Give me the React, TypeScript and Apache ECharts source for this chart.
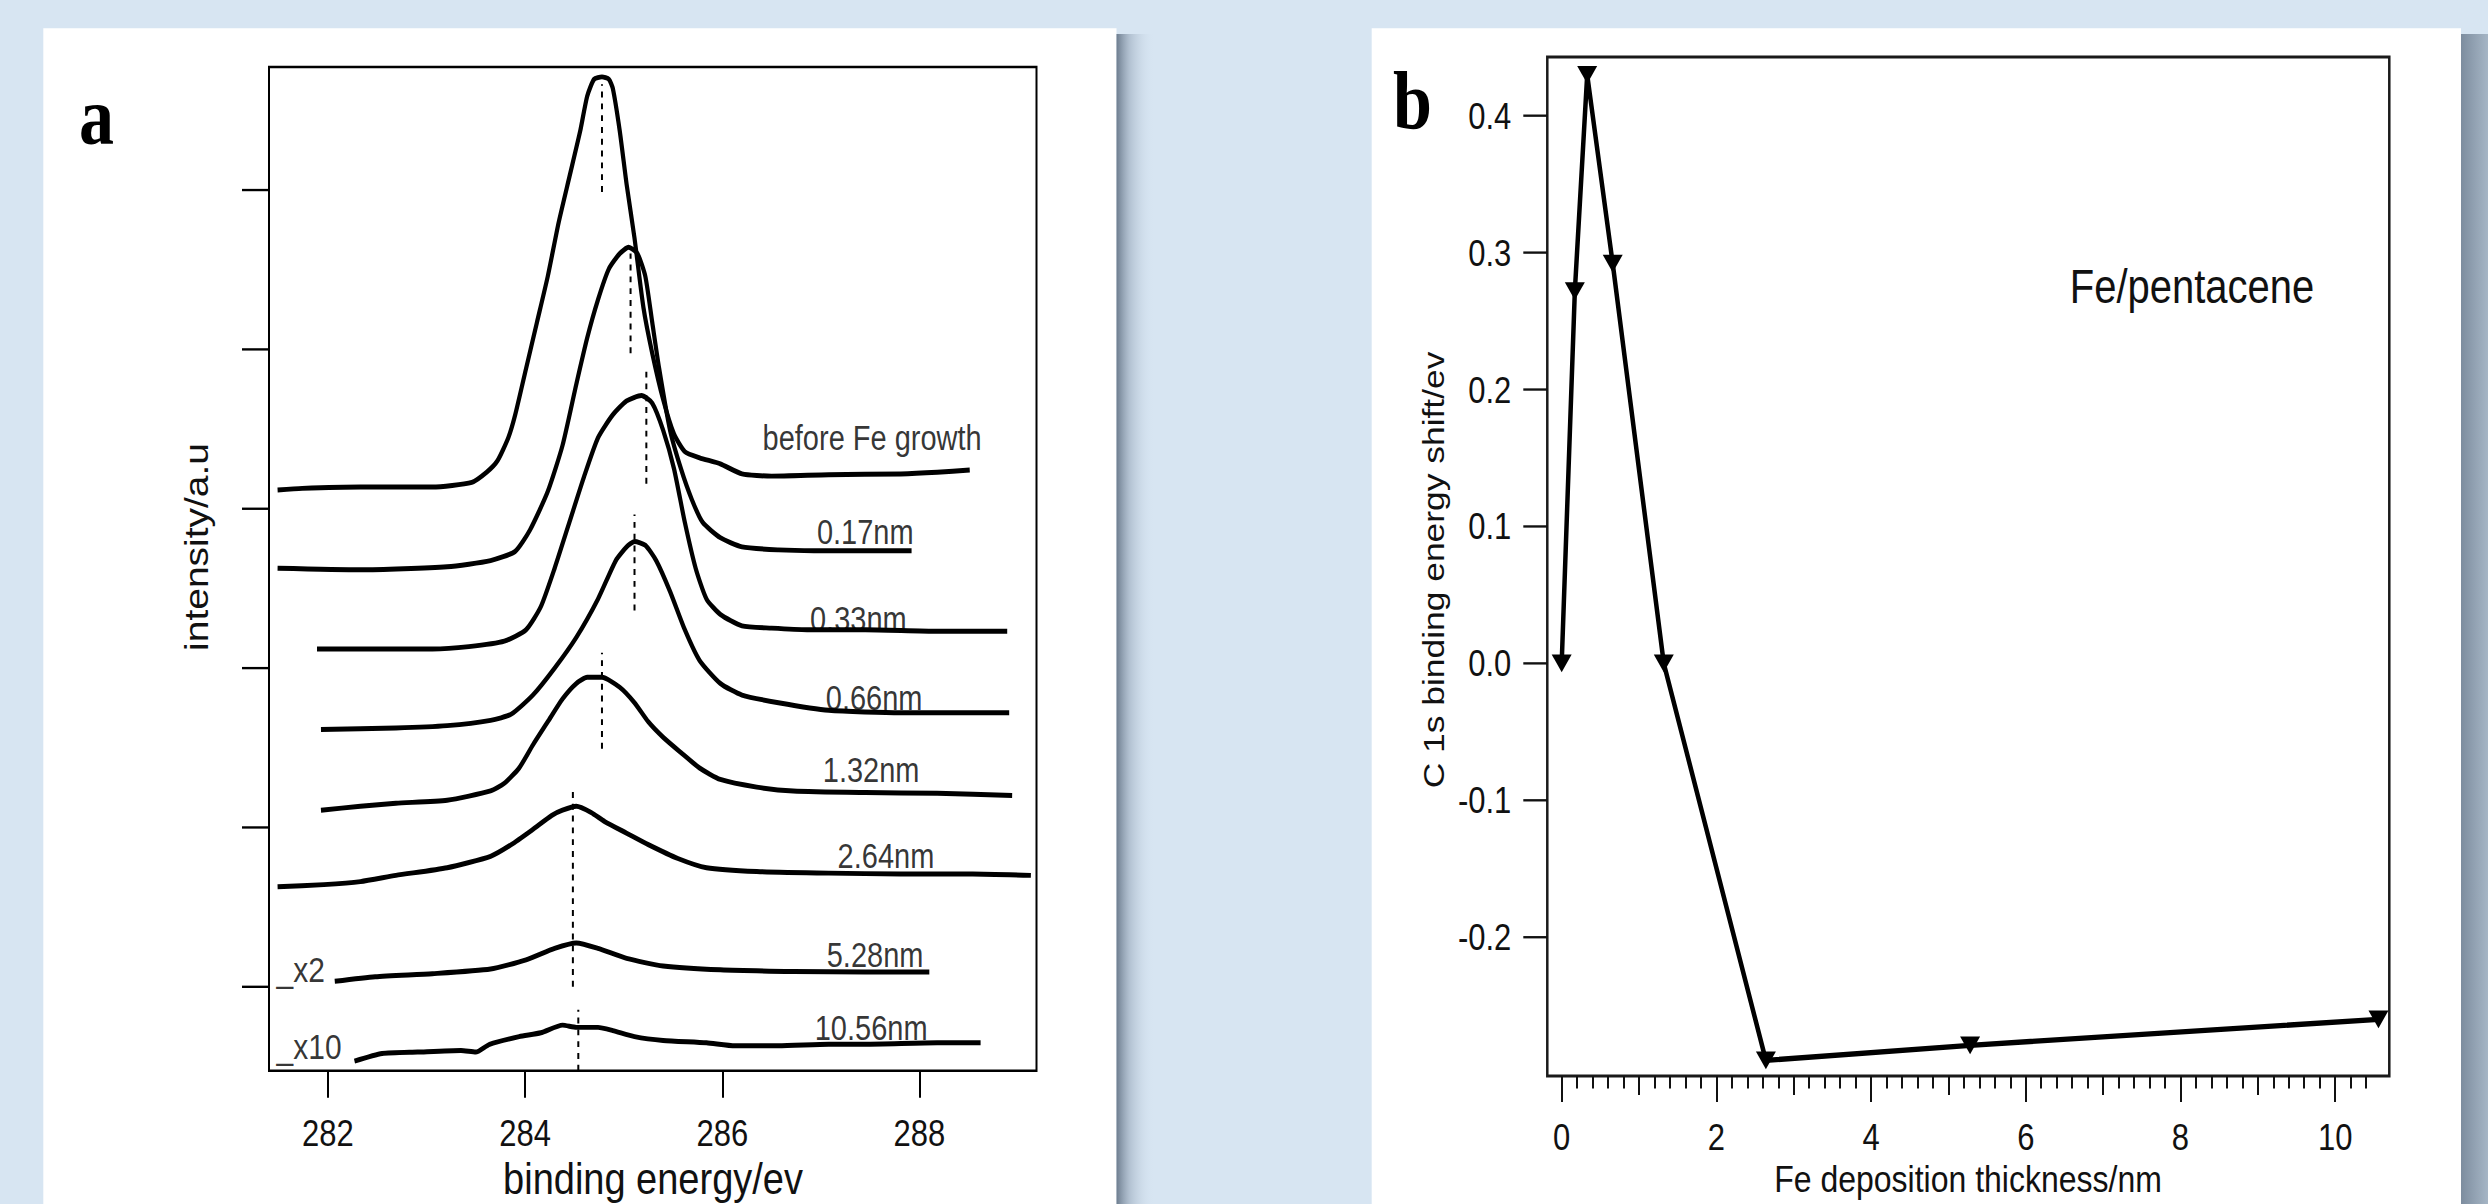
import React, { useEffect, useRef } from "react";
import * as echarts from "echarts";

// ---- page geometry (the original figure is stretched vertically) ----
const FULL_W = 2488;
const FULL_H = 1204;
const CH = 1020;
const S = FULL_H / CH;
const fy = (y: number) => y / S;

const SANS = "'Liberation Sans', Arial, Helvetica, sans-serif";
const SERIF = "'Liberation Serif', 'Times New Roman', serif";

// ---------------- panel a : C1s spectra ----------------
const ENERGY_TICKS = [282, 284, 286, 288];
const INTENSITY_TICKS = [1, 2, 3, 4, 5, 6];
const E_MIN = 281.403;
const E_MAX = 289.187;
const I_MIN = 0.473;
const I_MAX = 6.773;

const SPEC_BEFORE = [[281.49,4.118],[281.74,4.128],[282.33,4.137],[283.06,4.137],[283.46,4.166],[283.61,4.229],[283.72,4.301],[283.83,4.446],[283.90,4.590],[284.01,4.880],[284.12,5.169],[284.23,5.458],[284.34,5.795],[284.45,6.084],[284.56,6.373],[284.63,6.590],[284.70,6.696],[284.78,6.711],[284.85,6.696],[284.89,6.639],[284.96,6.373],[285.03,6.036],[285.11,5.699],[285.20,5.265],[285.29,4.976],[285.40,4.687],[285.51,4.470],[285.62,4.359],[285.77,4.320],[285.98,4.282],[286.20,4.219],[286.50,4.205],[287.08,4.214],[287.81,4.219],[288.18,4.229],[288.51,4.243]];
const SPEC_017 = [[281.49,3.627],[282.33,3.617],[283.21,3.636],[283.65,3.675],[283.90,3.733],[284.05,3.867],[284.23,4.108],[284.38,4.398],[284.52,4.783],[284.63,5.072],[284.74,5.313],[284.85,5.506],[284.96,5.602],[285.05,5.641],[285.14,5.602],[285.22,5.458],[285.29,5.169],[285.36,4.880],[285.47,4.494],[285.58,4.253],[285.69,4.060],[285.80,3.916],[285.98,3.819],[286.20,3.761],[286.57,3.742],[286.93,3.737],[287.45,3.737],[287.92,3.737]];
const SPEC_033 = [[281.89,3.120],[282.33,3.120],[283.06,3.120],[283.43,3.135],[283.79,3.169],[284.01,3.241],[284.16,3.386],[284.30,3.627],[284.45,3.916],[284.60,4.205],[284.74,4.446],[284.89,4.590],[285.03,4.677],[285.18,4.711],[285.29,4.663],[285.40,4.494],[285.51,4.253],[285.62,3.916],[285.73,3.627],[285.84,3.434],[285.98,3.337],[286.20,3.265],[286.50,3.251],[286.86,3.241],[287.45,3.241],[288.18,3.231],[288.89,3.231]];
const SPEC_066 = [[281.93,2.614],[282.69,2.624],[283.21,2.639],[283.65,2.672],[283.86,2.711],[284.08,2.831],[284.30,3.000],[284.52,3.193],[284.74,3.434],[284.92,3.675],[285.03,3.761],[285.11,3.795],[285.22,3.771],[285.33,3.675],[285.47,3.482],[285.62,3.241],[285.77,3.048],[285.98,2.904],[286.20,2.831],[286.57,2.783],[287.08,2.735],[287.81,2.720],[288.91,2.720]];
const SPEC_132 = [[281.93,2.108],[282.33,2.133],[282.69,2.152],[283.21,2.171],[283.65,2.229],[283.79,2.277],[283.94,2.373],[284.08,2.518],[284.23,2.663],[284.38,2.807],[284.52,2.904],[284.63,2.942],[284.78,2.942],[284.96,2.880],[285.11,2.783],[285.25,2.663],[285.40,2.566],[285.58,2.470],[285.77,2.373],[285.98,2.301],[286.35,2.253],[286.72,2.229],[287.45,2.219],[288.18,2.214],[288.94,2.200]];
const SPEC_264 = [[281.49,1.627],[281.96,1.641],[282.33,1.660],[282.69,1.699],[283.21,1.747],[283.65,1.819],[283.86,1.892],[284.08,1.988],[284.27,2.075],[284.38,2.108],[284.52,2.133],[284.67,2.094],[284.81,2.036],[285.03,1.964],[285.25,1.892],[285.55,1.805],[285.84,1.747],[286.35,1.723],[287.08,1.713],[287.81,1.708],[288.54,1.708],[289.13,1.699]];
const SPEC_528 = [[282.07,1.034],[282.48,1.063],[283.06,1.082],[283.65,1.111],[284.01,1.169],[284.30,1.241],[284.52,1.275],[284.74,1.241],[285.03,1.178],[285.40,1.130],[285.98,1.106],[286.72,1.096],[287.45,1.092],[288.10,1.092]];
const SPEC_1056 = [[282.27,0.533],[282.55,0.581],[282.91,0.590],[283.35,0.600],[283.50,0.590],[283.64,0.639],[283.94,0.687],[284.16,0.711],[284.38,0.759],[284.52,0.745],[284.74,0.745],[284.89,0.725],[285.11,0.687],[285.40,0.663],[285.84,0.648],[286.13,0.629],[286.57,0.629],[287.08,0.639],[287.45,0.639],[288.18,0.648],[288.62,0.648]];
const SPECTRA = [SPEC_BEFORE, SPEC_017, SPEC_033, SPEC_066, SPEC_132, SPEC_264, SPEC_528, SPEC_1056];

const SPECTRUM_LABELS = ["before Fe growth", "0.17nm", "0.33nm", "0.66nm", "1.32nm", "2.64nm", "5.28nm", "10.56nm"];
const LABEL_E = [287.52, 287.45, 287.38, 287.54, 287.51, 287.66, 287.55, 287.51];
const LABEL_I = [4.444, 3.854, 3.308, 2.812, 2.360, 1.821, 1.200, 0.741];

const SCALE_LABELS = ["_x2", "_x10"];
const SCALE_LABEL_E = [281.48, 281.48];
const SCALE_LABEL_I = [1.105, 0.622];

const PEAK_E = [284.78, 285.07, 285.23, 285.11, 284.78, 284.485, 284.54];
const PEAK_TOP = [6.664, 5.603, 4.880, 3.964, 3.097, 2.228, 0.855];
const PEAK_BOTTOM = [5.989, 4.977, 4.157, 3.362, 2.494, 1.0, 0.473];

// ---------------- panel b : binding energy shift ----------------
const THICKNESS = [0, 0.17, 0.33, 0.66, 1.32, 2.64, 5.28, 10.56];
const SHIFT = [0, 0.272, 0.43, 0.292, 0.0, -0.29, -0.279, -0.26];
const THICK_TICKS = [0, 2, 4, 6, 8, 10];
const THICK_MID_TICKS = [1, 3, 5, 7, 9];
const THICK_MINOR_STEP = 0.2;
const THICK_MINOR_LAST = 10.4;
const SHIFT_TICKS = [-0.2, -0.1, 0, 0.1, 0.2, 0.3, 0.4];
const T_MIN = -0.186;
const T_MAX = 10.7;
const SH_MIN = -0.3014;
const SH_MAX = 0.443;

const THICK_MINOR_TICKS: number[] = [];
for (let k = 1; k * THICK_MINOR_STEP <= THICK_MINOR_LAST + 1e-9; k++) {
  THICK_MINOR_TICKS.push(+(k * THICK_MINOR_STEP).toFixed(1));
}

function buildOption() {
  const gridA = { left: 269, top: fy(67), width: 1036.5 - 269, height: fy(1070.7) - fy(67) };
  const gridB = { left: 1547.3, top: fy(57), width: 2389.3 - 1547.3, height: fy(1076) - fy(57) };

  const tickAxisB = (values: number[], len: number) => ({
    type: "value",
    gridIndex: 1,
    position: "bottom",
    min: T_MIN,
    max: T_MAX,
    axisLine: { show: false, onZero: false },
    splitLine: { show: false },
    axisLabel: { show: false },
    axisTick: { show: true, length: len, customValues: values, lineStyle: { color: "#111", width: 2 } },
  });

  const series: any[] = [];
  SPECTRA.forEach((d) => {
    series.push({
      type: "line",
      xAxisIndex: 0,
      yAxisIndex: 0,
      data: d,
      symbol: "none",
      showSymbol: false,
      smooth: 0.2,
      silent: true,
      z: 3,
      lineStyle: { color: "#000", width: 4.2, join: "round" },
    });
  });
  PEAK_E.forEach((e, i) => {
    series.push({
      type: "line",
      xAxisIndex: 0,
      yAxisIndex: 0,
      data: [[e, PEAK_BOTTOM[i]], [e, PEAK_TOP[i]]],
      symbol: "none",
      silent: true,
      z: 2,
      lineStyle: { color: "#000", width: 2, type: [5, 5] },
    });
  });
  series.push({
    type: "scatter",
    xAxisIndex: 0,
    yAxisIndex: 0,
    data: SPECTRUM_LABELS.map((t, i) => ({ value: [LABEL_E[i], LABEL_I[i]], name: t })),
    symbolSize: 1,
    itemStyle: { color: "rgba(0,0,0,0)" },
    silent: true,
    z: 5,
    label: { show: true, position: "inside", formatter: "{b}", color: "#000", fontSize: 29, fontFamily: SANS },
  });
  series.push({
    type: "scatter",
    xAxisIndex: 0,
    yAxisIndex: 0,
    data: SCALE_LABELS.map((t, i) => ({ value: [SCALE_LABEL_E[i], SCALE_LABEL_I[i]], name: t })),
    symbolSize: 1,
    itemStyle: { color: "rgba(0,0,0,0)" },
    silent: true,
    z: 5,
    label: { show: true, position: "inside", align: "left", formatter: "{b}", color: "#000", fontSize: 30, fontFamily: SANS },
  });
  series.push({
    type: "line",
    xAxisIndex: 1,
    yAxisIndex: 1,
    data: THICKNESS.map((t, i) => [t, SHIFT[i]]),
    symbol: "triangle",
    symbolRotate: 180,
    symbolSize: [20, 15],
    showSymbol: true,
    silent: true,
    z: 3,
    itemStyle: { color: "#000" },
    lineStyle: { color: "#000", width: 4.5 },
  });

  const shadowA = new echarts.graphic.LinearGradient(0, 0, 1, 0, [
    { offset: 0, color: "rgba(100,116,134,0.92)" },
    { offset: 0.35, color: "rgba(150,166,184,0.55)" },
    { offset: 1, color: "rgba(214,228,241,0)" },
  ]);
  const shadowB = new echarts.graphic.LinearGradient(0, 0, 1, 0, [
    { offset: 0, color: "rgba(120,136,154,0.95)" },
    { offset: 1, color: "rgba(160,176,192,0.9)" },
  ]);

  const graphic: any[] = [
    { type: "rect", z: -1, silent: true, shape: { x: 43.3, y: fy(28.3), width: 1116.5 - 43.3, height: CH }, style: { fill: "#ffffff" } },
    { type: "rect", z: -1, silent: true, shape: { x: 1116.5, y: fy(34), width: 38, height: CH }, style: { fill: shadowA } },
    { type: "rect", z: -1, silent: true, shape: { x: 1371.7, y: fy(28.3), width: 2461 - 1371.7, height: CH }, style: { fill: "#ffffff" } },
    { type: "rect", z: -1, silent: true, shape: { x: 2461, y: fy(34), width: 27, height: CH }, style: { fill: shadowB } },
    { type: "text", z: 100, silent: true, x: 79, y: fy(144) - 0.3375 * 70, style: { text: "a", fontSize: 70, fontWeight: "bold", fontFamily: SERIF, fill: "#000", align: "left", verticalAlign: "middle" } },
    { type: "text", z: 100, silent: true, x: 1393, y: fy(128) - 0.3375 * 70, style: { text: "b", fontSize: 70, fontWeight: "bold", fontFamily: SERIF, fill: "#000", align: "left", verticalAlign: "middle" } },
    { type: "text", z: 100, silent: true, x: 653, y: fy(1194) - 0.3465 * 38, style: { text: "binding energy/ev", fontSize: 38, fontFamily: SANS, fill: "#111", align: "center", verticalAlign: "middle" } },
    { type: "text", z: 100, silent: true, x: 197, y: fy(547), rotation: Math.PI / 2, style: { text: "intensity/a.u", fontSize: 33, fontFamily: SANS, fill: "#111", align: "center", verticalAlign: "middle" } },
    { type: "text", z: 100, silent: true, x: 1968, y: fy(1192) - 0.3465 * 32, style: { text: "Fe deposition thickness/nm", fontSize: 32, fontFamily: SANS, fill: "#111", align: "center", verticalAlign: "middle" } },
    { type: "text", z: 100, silent: true, x: 1433, y: fy(570), rotation: Math.PI / 2, style: { text: "C 1s binding energy shift/ev", fontSize: 30, fontFamily: SANS, fill: "#111", align: "center", verticalAlign: "middle" } },
    { type: "text", z: 100, silent: true, x: 2192, y: fy(286.5), style: { text: "Fe/pentacene", fontSize: 40, fontFamily: SANS, fill: "#111", align: "center", verticalAlign: "middle" } },
  ];

  return {
    animation: false,
    backgroundColor: "#d7e5f2",
    graphic,
    grid: [
      { ...gridA, show: true, borderColor: "#000", borderWidth: 2, backgroundColor: "rgba(0,0,0,0)", containLabel: false },
      { ...gridB, show: true, borderColor: "#1a1a1a", borderWidth: 2.5, backgroundColor: "rgba(0,0,0,0)", containLabel: false },
    ],
    xAxis: [
      {
        type: "value",
        gridIndex: 0,
        position: "bottom",
        min: E_MIN,
        max: E_MAX,
        axisLine: { show: false, onZero: false },
        splitLine: { show: false },
        axisTick: { show: true, length: fy(27), customValues: ENERGY_TICKS, lineStyle: { color: "#000", width: 2 } },
        axisLabel: { show: true, customValues: ENERGY_TICKS, margin: 37, fontSize: 31, fontFamily: SANS, color: "#111" },
      },
      {
        type: "value",
        gridIndex: 1,
        position: "bottom",
        min: T_MIN,
        max: T_MAX,
        axisLine: { show: false, onZero: false },
        splitLine: { show: false },
        axisTick: { show: true, length: fy(26), customValues: THICK_TICKS, lineStyle: { color: "#111", width: 2 } },
        axisLabel: { show: true, customValues: THICK_TICKS, margin: 36, fontSize: 31, fontFamily: SANS, color: "#111" },
      },
      tickAxisB(THICK_MID_TICKS, fy(19)),
      tickAxisB(THICK_MINOR_TICKS, fy(12.5)),
    ],
    yAxis: [
      {
        type: "value",
        gridIndex: 0,
        position: "left",
        min: I_MIN,
        max: I_MAX,
        axisLine: { show: false, onZero: false },
        splitLine: { show: false },
        axisLabel: { show: false },
        axisTick: { show: true, length: 27, customValues: INTENSITY_TICKS, lineStyle: { color: "#000", width: 2 } },
      },
      {
        type: "value",
        gridIndex: 1,
        position: "left",
        min: SH_MIN,
        max: SH_MAX,
        axisLine: { show: false, onZero: false },
        splitLine: { show: false },
        axisTick: { show: true, length: 24, customValues: SHIFT_TICKS, lineStyle: { color: "#111", width: 2 } },
        axisLabel: {
          show: true,
          customValues: SHIFT_TICKS,
          margin: 36,
          fontSize: 31,
          fontFamily: SANS,
          color: "#111",
          formatter: (v: number) => v.toFixed(1),
        },
      },
    ],
    series,
  };
}

export default function App() {
  const ref = useRef<HTMLDivElement>(null);
  useEffect(() => {
    if (!ref.current) return;
    const chart = echarts.init(ref.current, null, { renderer: "svg" });
    chart.setOption(buildOption() as any);
    return () => chart.dispose();
  }, []);
  return (
    <div
      ref={ref}
      style={{
        position: "absolute",
        left: 0,
        top: 0,
        width: FULL_W,
        height: CH,
        transform: `scaleY(${S})`,
        transformOrigin: "0 0",
      }}
    />
  );
}
